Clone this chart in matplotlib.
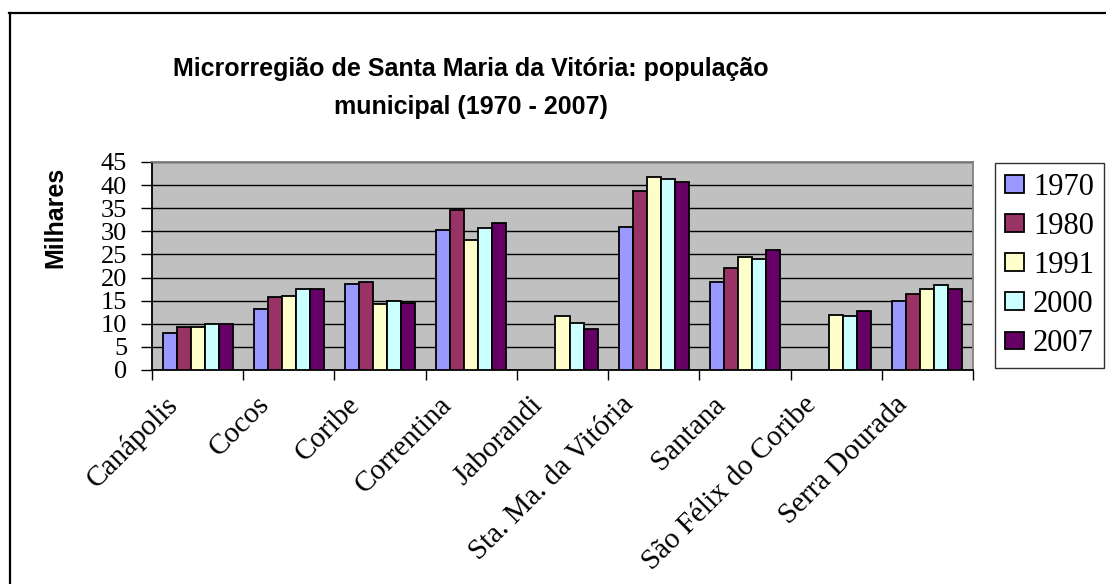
import numpy as np
import matplotlib
matplotlib.use("Agg")
import matplotlib.pyplot as plt
from matplotlib.lines import Line2D

# population (thousands) per municipality
cities = ["Canápolis", "Cocos", "Coribe", "Correntina", "Jaborandi",
          "Sta. Ma. da Vitória", "Santana", "São Félix do Coribe", "Serra Dourada"]
years = ["1970", "1980", "1991", "2000", "2007"]
pop_1970 = [8.1, 13.1, 18.6, 30.3, np.nan, 31.0, 19.0, np.nan, 15.0]
pop_1980 = [9.4, 15.7, 19.0, 34.7, np.nan, 38.7, 22.0, np.nan, 16.4]
pop_1991 = [9.4, 16.1, 14.3, 28.2, 11.7, 41.7, 24.5, 12.0, 17.6]
pop_2000 = [9.9, 17.6, 15.0, 30.7, 10.2, 41.3, 24.1, 11.7, 18.3]
pop_2007 = [9.9, 17.6, 14.6, 31.8, 8.8, 40.6, 25.9, 12.7, 17.6]
series = [pop_1970, pop_1980, pop_1991, pop_2000, pop_2007]
colors = ["#9999FF", "#993366", "#FFFFCC", "#CCFFFF", "#660066"]

serif = ["Liberation Serif", "DejaVu Serif"]
sans = ["Liberation Sans", "DejaVu Sans"]
W, H = 1106, 584

fig = plt.figure(figsize=(W / 100, H / 100), dpi=100)
ax = fig.add_axes([152 / W, 1 - 370 / H, (973 - 152) / W, (370 - 162) / H])
ax.set_facecolor("#C0C0C0")

x = np.arange(len(cities))
w = 1 / 6.5
for i, (vals, c, yr) in enumerate(zip(series, colors, years)):
    ax.bar(x + (i - 2) * w, vals, width=w, color=c, edgecolor="black",
           linewidth=1.3, label=yr, zorder=3)

ax.set_xlim(-0.5, len(cities) - 0.5)
ax.set_ylim(0, 45)
ax.set_yticks(range(0, 50, 5))
ax.yaxis.grid(True, color="black", linewidth=1, zorder=1)
ax.set_axisbelow(True)
ax.set_yticklabels([str(v) for v in range(0, 50, 5)], family=serif, fontsize=19)
ax.tick_params(axis="y", length=8, width=1, pad=10)

ax.set_xticks(np.arange(len(cities) + 1) - 0.5)
ax.set_xticklabels([])
ax.tick_params(axis="x", length=7, width=1)
for xi, name in zip(x, cities):
    ax.text(xi - 0.36, -4.6, name, rotation=45, ha="right", va="top",
            rotation_mode="anchor", family=serif, fontsize=21)

for side in ("top", "right"):
    ax.spines[side].set_color("#808080")
for s in ax.spines.values():
    s.set_linewidth(1.3)

fig.text(471 / W, 1 - 88 / H, "Microrregião de Santa Maria da Vitória: população\nmunicipal (1970 - 2007)",
         ha="center", va="center", family=sans, fontsize=18, fontweight="bold",
         linespacing=1.7)
fig.text(55 / W, 1 - 217 / H, "Milhares", rotation=90, ha="center", va="center",
         family=sans, fontsize=18, fontweight="bold")

leg = ax.legend(loc="upper left", bbox_to_anchor=(995 / W, 1 - 163 / H),
                bbox_transform=fig.transFigure, prop={"family": serif, "size": 22},
                frameon=True, fancybox=False, edgecolor="black", borderpad=0.32,
                handlelength=0.62, handleheight=0.5, handletextpad=0.3, labelspacing=0.33,
                borderaxespad=0)
leg.get_frame().set_linewidth(1)

# outer chart border (only top and left are visible in the original)
fig.add_artist(Line2D([9 / W, 1], [1 - 13 / H, 1 - 13 / H], transform=fig.transFigure,
                      color="black", linewidth=1.6))
fig.add_artist(Line2D([10 / W, 10 / W], [0, 1 - 13 / H], transform=fig.transFigure,
                      color="black", linewidth=1.6))

fig.savefig("out.png", dpi=100)
